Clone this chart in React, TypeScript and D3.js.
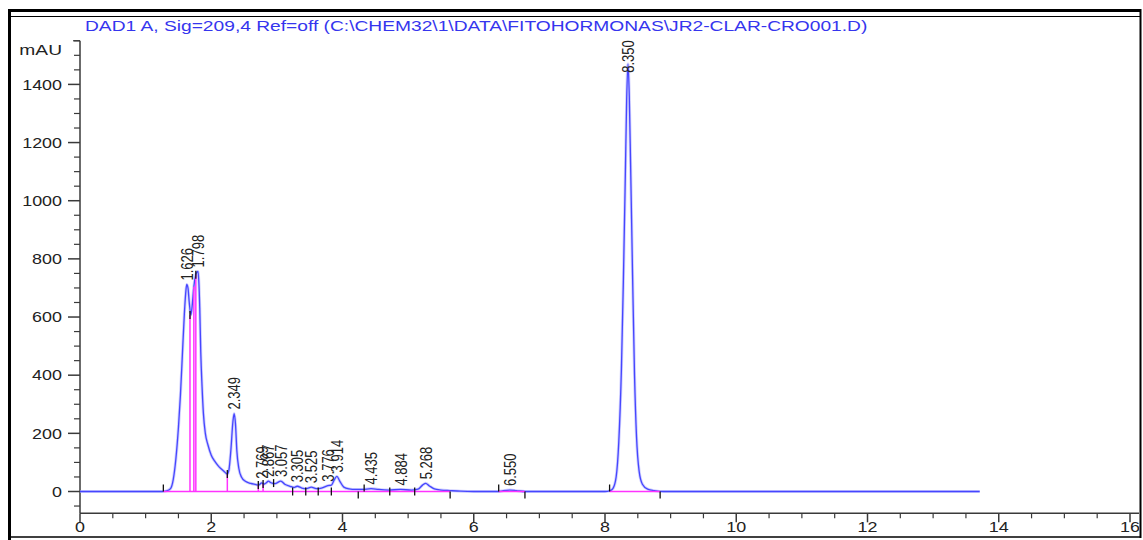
import React from "react";
import * as d3 from "d3";

// ---- data ----
const titleText = "DAD1 A, Sig=209,4 Ref=off (C:\\CHEM32\\1\\DATA\\FITOHORMONAS\\JR2-CLAR-CRO001.D)";
const yUnit = "mAU";

const xTicksMajor = [0, 2, 4, 6, 8, 10, 12, 14, 16];
const yTicksMajor = [0, 200, 400, 600, 800, 1000, 1200, 1400];

// signal trace: [time (min), absorbance (mAU)]
const traceTimes = [
  0, 1.25, 1.32, 1.38, 1.42, 1.46, 1.5, 1.53, 1.56, 1.59, 1.61, 1.626, 1.645, 1.665, 1.69,
  1.71, 1.735, 1.765, 1.785, 1.798, 1.81, 1.825, 1.84, 1.86, 1.88, 1.91, 1.95, 2.0, 2.05,
  2.1, 2.15, 2.2, 2.245, 2.27, 2.3, 2.33, 2.349, 2.37, 2.39, 2.42, 2.46, 2.52, 2.6, 2.68,
  2.72, 2.77, 2.8, 2.84, 2.87, 2.91, 2.97, 3.06, 3.12, 3.2, 3.26, 3.31, 3.38, 3.45, 3.525,
  3.6, 3.68, 3.776, 3.83, 3.87, 3.914, 3.96, 4.02, 4.1, 4.2, 4.3, 4.435, 4.55, 4.7, 4.884,
  5.05, 5.15, 5.22, 5.268, 5.32, 5.4, 5.5, 5.64, 5.8, 6.0, 6.38, 6.45, 6.55, 6.65, 6.78,
  8.0, 8.07, 8.12, 8.17, 8.21, 8.25, 8.28, 8.31, 8.33, 8.35, 8.37, 8.39, 8.42, 8.45, 8.48,
  8.52, 8.57, 8.65, 8.75, 8.9, 13.71,
];
const traceValues = [
  0, 0, 2, 10, 40, 110, 220, 330, 470, 610, 680, 712, 700, 650, 607,
  640, 705, 745, 755, 757, 725, 630, 480, 360, 270, 200, 160, 125, 105,
  90, 78, 68, 60, 75, 145, 240, 268, 230, 140, 80, 50, 35, 28, 24,
  22, 30, 25, 30, 36, 30, 27, 36, 25, 18, 14, 18, 12, 10, 15,
  10, 12, 20, 22, 38, 52, 35, 15, 9, 7, 7, 10, 7, 5, 7,
  5, 8, 22, 28, 20, 9, 5, 3, 1, 0, 0, 3, 5, 3, 0,
  0, 2, 10, 50, 170, 420, 725, 1090, 1345, 1470, 1360, 1125, 745, 400, 190,
  70, 25, 8, 3, 0, 0,
];

// integrated peaks: retention time label and apex height
const peakTimes = [1.626, 1.798, 2.349, 2.769, 2.867, 3.057, 3.305, 3.525, 3.776, 3.914, 4.435, 4.884, 5.268, 6.55, 8.35];
const peakHeights = [712, 757, 268, 30, 36, 36, 18, 15, 20, 52, 10, 7, 28, 5, 1470];
const peakLabels = ["1.626", "1.798", "2.349", "2.769", "2.867", "3.057", "3.305", "3.525", "3.776", "3.914", "4.435", "4.884", "5.268", "6.550", "8.350"];

// integration baselines (magenta)
const baselineStarts = [1.27, 6.38, 8.07];
const baselineEnds = [5.64, 6.78, 8.84];
// drop lines (magenta): time and height reached
const dropTimes = [1.676, 1.735, 1.765, 2.245, 2.717, 2.79];
const dropHeights = [607, 705, 745, 60, 22, 26];
// start/end markers: time, level, direction
const markTimes = [1.27, 1.676, 1.765, 2.245, 2.717, 2.79, 2.95, 3.24, 3.44, 3.63, 3.83, 4.24, 4.33, 4.72, 5.1, 5.64, 6.38, 6.78, 8.07, 8.84];
const markLevels = [0, 607, 745, 60, 22, 26, 29, 0, 0, 0, 0, 0, 0, 0, 0, 0, 0, 0, 0, 0];
const markDirs = ["up", "mid", "mid", "mid", "mid", "mid", "mid", "mid", "mid", "mid", "mid", "down", "up", "mid", "mid", "down", "up", "down", "up", "down"];

const FONT = "'Liberation Sans', Arial, Helvetica, sans-serif";
const SX = 1.28; // horizontal stretch of the picture's text

export default function App() {
  const W = 1143;
  const H = 540;
  const x = d3.scaleLinear().domain([0, 16]).range([80, 1130]);
  const y = d3.scaleLinear().domain([0, 1400]).range([491.5, 84.4]);

  const pts: [number, number][] = traceTimes.map((t, i) => [t, traceValues[i]]);
  const line = d3
    .line<[number, number]>()
    .x((d) => x(d[0]))
    .y((d) => y(d[1]))
    .curve(d3.curveMonotoneX);

  const xMinor = d3.range(0, 16.001, 0.5).filter((v) => Math.abs(v % 2) > 1e-6);
  const yMinor = d3.range(-50, 1550.001, 50).filter((v) => Math.abs(v % 200) > 1e-6);

  const axisColor = "#3a3a3a";
  const textColor = "#222";
  const blue = "#4646ff";
  const magenta = "#ff33ff";
  const plotTop = y(1550);
  const labelLen = 32;

  const stretchText = (tx: number, ty: number, content: string, opts: any = {}) => (
    <text
      transform={`translate(${tx},${ty}) scale(${SX},1)${opts.rotate ? " rotate(-90)" : ""}`}
      fontFamily={FONT}
      fontSize={opts.size || 14}
      fill={opts.fill || textColor}
      textAnchor={opts.anchor || "middle"}
      dominantBaseline={opts.baseline || "auto"}
    >
      {content}
    </text>
  );

  return (
    <svg
      width={W}
      height={H}
      viewBox={`0 0 ${W} ${H}`}
      style={{ position: "absolute", left: 0, top: 0, background: "#fff" }}
    >
      <defs>
        <clipPath id="frameClip">
          <rect x={10} y={17} width={1129} height={519} />
        </clipPath>
      </defs>
      <rect x={0} y={0} width={W} height={H} fill="#fff" />

      {/* frame */}
      <line x1={9.5} y1={10.5} x2={1141} y2={10.5} stroke="#000" strokeWidth={3} />
      <line x1={9.5} y1={16.5} x2={1141} y2={16.5} stroke="#000" strokeWidth={1} />
      <line x1={9.5} y1={9} x2={9.5} y2={540} stroke="#000" strokeWidth={3} />
      <line x1={1140.5} y1={9} x2={1140.5} y2={538} stroke="#000" strokeWidth={2} />
      <line x1={9.5} y1={537} x2={1141} y2={537} stroke="#000" strokeWidth={1.5} />

      {/* title */}
      {stretchText(85, 31, titleText, { size: 15, fill: "#3535ee", anchor: "start" })}

      <g clipPath="url(#frameClip)">
        {/* y axis */}
        <line x1={80} y1={y(1550)} x2={80} y2={y(-75)} stroke={axisColor} strokeWidth={1.5} />
        {yTicksMajor.map((v) => (
          <g key={"ym" + v}>
            <line x1={68} x2={80} y1={y(v)} y2={y(v)} stroke={axisColor} strokeWidth={1.5} />
            {stretchText(62, y(v), String(v), { anchor: "end", baseline: "central" })}
          </g>
        ))}
        {yMinor.map((v) => (
          <line key={"yn" + v} x1={74} x2={80} y1={y(v)} y2={y(v)} stroke={axisColor} strokeWidth={1.2} />
        ))}
        <line x1={73} x2={80} y1={y(1550)} y2={y(1550)} stroke={axisColor} strokeWidth={1.2} />
        {stretchText(62, 55, yUnit, { anchor: "end", size: 15 })}

        {/* x axis */}
        <line x1={80} y1={y(-75)} x2={1140} y2={y(-75)} stroke={axisColor} strokeWidth={1.5} />
        {xTicksMajor.map((v) => (
          <g key={"xm" + v}>
            <line x1={x(v)} x2={x(v)} y1={y(-75)} y2={y(-75) + 9} stroke={axisColor} strokeWidth={1.5} />
            {stretchText(x(v), 532, String(v))}
          </g>
        ))}
        {xMinor.map((v) => (
          <line key={"xn" + v} x1={x(v)} x2={x(v)} y1={y(-75)} y2={y(-75) + 5} stroke={axisColor} strokeWidth={1.2} />
        ))}

        {/* signal */}
        <path d={line(pts) || ""} fill="none" stroke="#b0b0ff" strokeWidth={3} opacity={0.6} />
        <path d={line(pts) || ""} fill="none" stroke={blue} strokeWidth={1.3} />

        {/* integration baselines and drop lines */}
        {baselineStarts.map((s, i) => (
          <line
            key={"bl" + i}
            x1={x(s)}
            x2={x(baselineEnds[i])}
            y1={y(0)}
            y2={y(0)}
            stroke={magenta}
            strokeWidth={1.5}
          />
        ))}
        {dropTimes.map((t, i) => (
          <line
            key={"dl" + i}
            x1={x(t)}
            x2={x(t)}
            y1={y(0)}
            y2={y(dropHeights[i])}
            stroke={magenta}
            strokeWidth={1.5}
          />
        ))}
        {markTimes.map((t, i) => {
          const yy = y(markLevels[i]);
          const dir = markDirs[i];
          const y1 = dir === "up" ? yy - 7 : dir === "down" ? yy : yy - 4;
          const y2 = dir === "up" ? yy : dir === "down" ? yy + 7 : yy + 4;
          return <line key={"mk" + i} x1={x(t)} x2={x(t)} y1={y1} y2={y2} stroke="#111" strokeWidth={1.3} />;
        })}

        {/* peak labels */}
        {peakTimes.map((t, i) => (
          <g key={"pl" + i}>
            {stretchText(x(t), Math.max(y(peakHeights[i]) - 4, plotTop + labelLen), peakLabels[i], {
              rotate: true,
              anchor: "start",
              baseline: "central",
              size: 13,
            })}
          </g>
        ))}
      </g>
    </svg>
  );
}
